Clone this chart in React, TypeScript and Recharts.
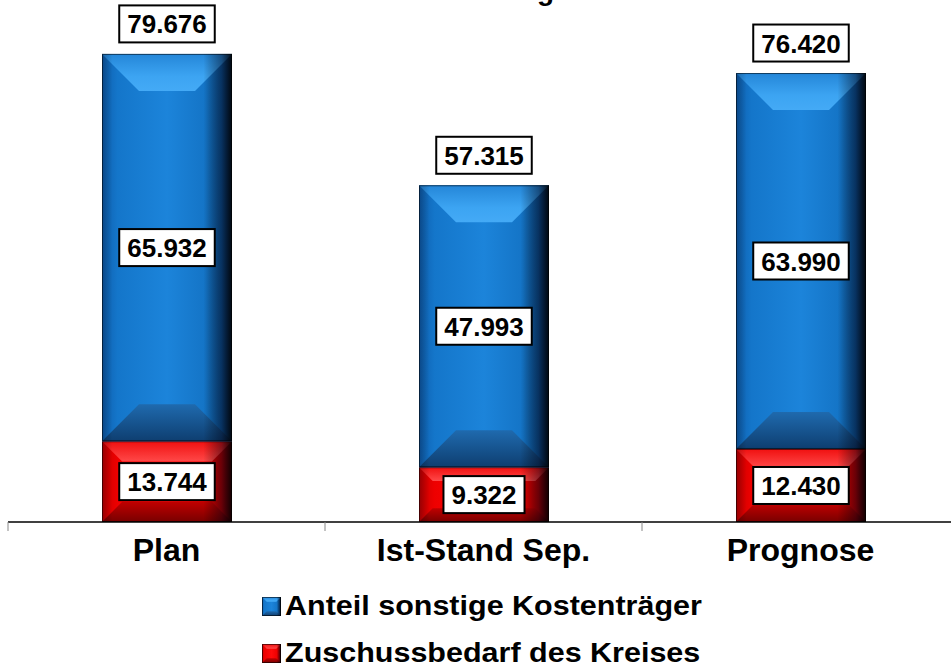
import React from 'react';
import { BarChart, Bar, XAxis, YAxis, LabelList } from 'recharts';

const FONT = '"Liberation Sans", Arial, Helvetica, sans-serif';

const categories = ['Plan', 'Ist-Stand Sep.', 'Prognose'];
const anteilSonstige = [65.932, 47.993, 63.99];
const zuschussbedarf = [13.744, 9.322, 12.43];
const totals = [79.676, 57.315, 76.42];
const seriesNames = ['Anteil sonstige Kostenträger', 'Zuschussbedarf des Kreises'];
const titleText = 'Finanzierung';

const data = categories.map((name, i) => ({
  name,
  zuschuss: zuschussbedarf[i],
  anteil: anteilSonstige[i],
  total: totals[i],
}));

const CHART_W = 959;
const LEFT = 8;
const HALF_BAND = (CHART_W - LEFT) / categories.length / 2;

type Pal = {
  face: [number, string][];
  top: [number, string][];
  bot: [number, string][];
};

const PALETTES: Record<string, Pal> = {
  blue: {
    face: [
      [0, '#0E5FAF'],
      [0.12, '#1476CA'],
      [0.5, '#1C84DA'],
      [0.8, '#1474C6'],
      [1, '#0A4A8A'],
    ],
    top: [
      [0, '#2486D8'],
      [0.6, '#3CA4F2'],
      [1, '#44AAF6'],
    ],
    bot: [
      [0, '#1F6AAE'],
      [1, '#0E3E70'],
    ],
  },
  red: {
    face: [
      [0, '#C80000'],
      [0.12, '#EE0000'],
      [0.5, '#FF0A0A'],
      [0.8, '#EE0000'],
      [1, '#A00000'],
    ],
    top: [
      [0, '#F01010'],
      [1, '#FF4848'],
    ],
    bot: [
      [0, '#C00000'],
      [1, '#780000'],
    ],
  },
};

function Stops({ stops }: { stops: [number, string][] }) {
  return (
    <>
      {stops.map(([o, c], i) => (
        <stop key={i} offset={o} stopColor={c} />
      ))}
    </>
  );
}

function Bevel(props: any) {
  const { x, y, width, height, palette, bevelMax = 37 } = props;
  if (!width || !height || height <= 0) return null;
  const b = Math.min(bevelMax, height / 4, width / 3.5);
  const p = PALETTES[palette];
  const id = 'g-' + palette;
  const x2 = x + width;
  const y2 = y + height;
  return (
    <g>
      <defs>
        <linearGradient id={`${id}-face`} x1="0" y1="0" x2="1" y2="0">
          <Stops stops={p.face} />
        </linearGradient>
        <linearGradient id={`${id}-top`} x1="0" y1="0" x2="0" y2="1">
          <Stops stops={p.top} />
        </linearGradient>
        <linearGradient id={`${id}-bot`} x1="0" y1="0" x2="0" y2="1">
          <Stops stops={p.bot} />
        </linearGradient>
        <linearGradient id={`${id}-side`} x1="0" y1="0" x2="1" y2="0">
          <stop offset={0} stopColor="#000010" stopOpacity={0.25} />
          <stop offset={0.08} stopColor="#000000" stopOpacity={0} />
          <stop offset={0.78} stopColor="#000000" stopOpacity={0} />
          <stop offset={0.92} stopColor="#000010" stopOpacity={0.45} />
          <stop offset={1} stopColor="#000000" stopOpacity={0.9} />
        </linearGradient>
      </defs>
      <rect x={x} y={y} width={width} height={height} fill={`url(#${id}-face)`} />
      <polygon
        points={`${x},${y} ${x2},${y} ${x2 - b},${y + b} ${x + b},${y + b}`}
        fill={`url(#${id}-top)`}
      />
      <polygon
        points={`${x + b},${y2 - b} ${x2 - b},${y2 - b} ${x2},${y2} ${x},${y2}`}
        fill={`url(#${id}-bot)`}
      />
      <rect x={x} y={y} width={width} height={height} fill={`url(#${id}-side)`} />
      <rect
        x={x + 0.5}
        y={y + 0.5}
        width={width - 1}
        height={height - 1}
        fill="none"
        stroke="rgba(0,0,0,0.55)"
        strokeWidth={1}
      />
    </g>
  );
}

const fmt = (v: number) => v.toFixed(3);

function textWidth(s: string, size: number) {
  let w = 0;
  for (const ch of s) w += ch === '.' ? 0.278 : 0.556;
  return w * size;
}

function ValueBox({ cx, cy, value }: { cx: number; cy: number; value: number }) {
  const s = fmt(value);
  const fs = 26;
  const w = textWidth(s, fs) + 16;
  const h = 37;
  return (
    <g>
      <rect x={cx - w / 2} y={cy - h / 2} width={w} height={h} fill="#fff" stroke="#000" strokeWidth={2} />
      <text
        x={cx}
        y={cy + 9.5}
        textAnchor="middle"
        fontFamily={FONT}
        fontWeight="bold"
        fontSize={fs}
        fill="#000"
      >
        {s}
      </text>
    </g>
  );
}

const centerLabel = (props: any) => {
  const { x, y, width, height, value } = props;
  return <ValueBox cx={x + width / 2} cy={y + height / 2} value={value} />;
};

const totalLabel = (props: any) => {
  const { x, y, width, value } = props;
  return <ValueBox cx={x + width / 2} cy={y - 30} value={value} />;
};

const CategoryTick = (props: any) => {
  const { x, y, payload } = props;
  const bx = x - HALF_BAND;
  return (
    <g>
      <line x1={bx} y1={y - 9} x2={bx} y2={y} stroke="#888" strokeWidth={1} />
      <text
        x={x}
        y={y + 30}
        textAnchor="middle"
        fontFamily={FONT}
        fontWeight="bold"
        fontSize={32}
        fill="#000"
      >
        {payload.value}
      </text>
    </g>
  );
};

function LegendBlock() {
  const rows = [
    { name: seriesNames[0], palette: 'blue' },
    { name: seriesNames[1], palette: 'red' },
  ];
  return (
    <svg width={951} height={90} style={{ position: 'absolute', left: 0, top: 578 }}>
      {rows.map((r, i) => {
        const base = 37 + i * 47;
        return (
          <g key={r.name}>
            <Bevel x={262} y={base - 18} width={19} height={19} palette={r.palette} bevelMax={6} />
            <text
              transform={`translate(285,${base}) scale(1.13,1)`}
              fontFamily={FONT}
              fontWeight="bold"
              fontSize={27}
              fill="#000"
            >
              {r.name}
            </text>
          </g>
        );
      })}
    </svg>
  );
}

export default function App() {
  return (
    <div style={{ position: 'relative', width: 951, height: 668, overflow: 'hidden', background: '#fff' }}>
      <style>{`html,body{margin:0;padding:0;overflow:hidden;background:#fff}`}</style>
      <BarChart
        width={CHART_W}
        height={668}
        data={data}
        margin={{ top: 52, right: 0, bottom: 46, left: LEFT }}
        barSize={130}
      >
        <XAxis
          dataKey="name"
          height={100}
          axisLine={{ stroke: '#000', strokeWidth: 1.5 }}
          tickLine={false}
          tickSize={9}
          tickMargin={0}
          tick={<CategoryTick />}
          interval={0}
        />
        <YAxis hide domain={[0, 80]} />
        <Bar
          dataKey="zuschuss"
          stackId="s"
          isAnimationActive={false}
          shape={(p: any) => <Bevel {...p} palette="red" />}
        >
          <LabelList dataKey="zuschuss" content={centerLabel} />
        </Bar>
        <Bar
          dataKey="anteil"
          stackId="s"
          isAnimationActive={false}
          shape={(p: any) => <Bevel {...p} palette="blue" />}
        >
          <LabelList dataKey="anteil" content={centerLabel} />
          <LabelList dataKey="total" content={totalLabel} />
        </Bar>
      </BarChart>
      <svg width={951} height={20} style={{ position: 'absolute', left: 0, top: 0 }}>
        <text x={554} y={0} textAnchor="end" fontFamily={FONT} fontWeight="bold" fontSize={28} fill="#000">
          {titleText}
        </text>
      </svg>
      <LegendBlock />
    </div>
  );
}
